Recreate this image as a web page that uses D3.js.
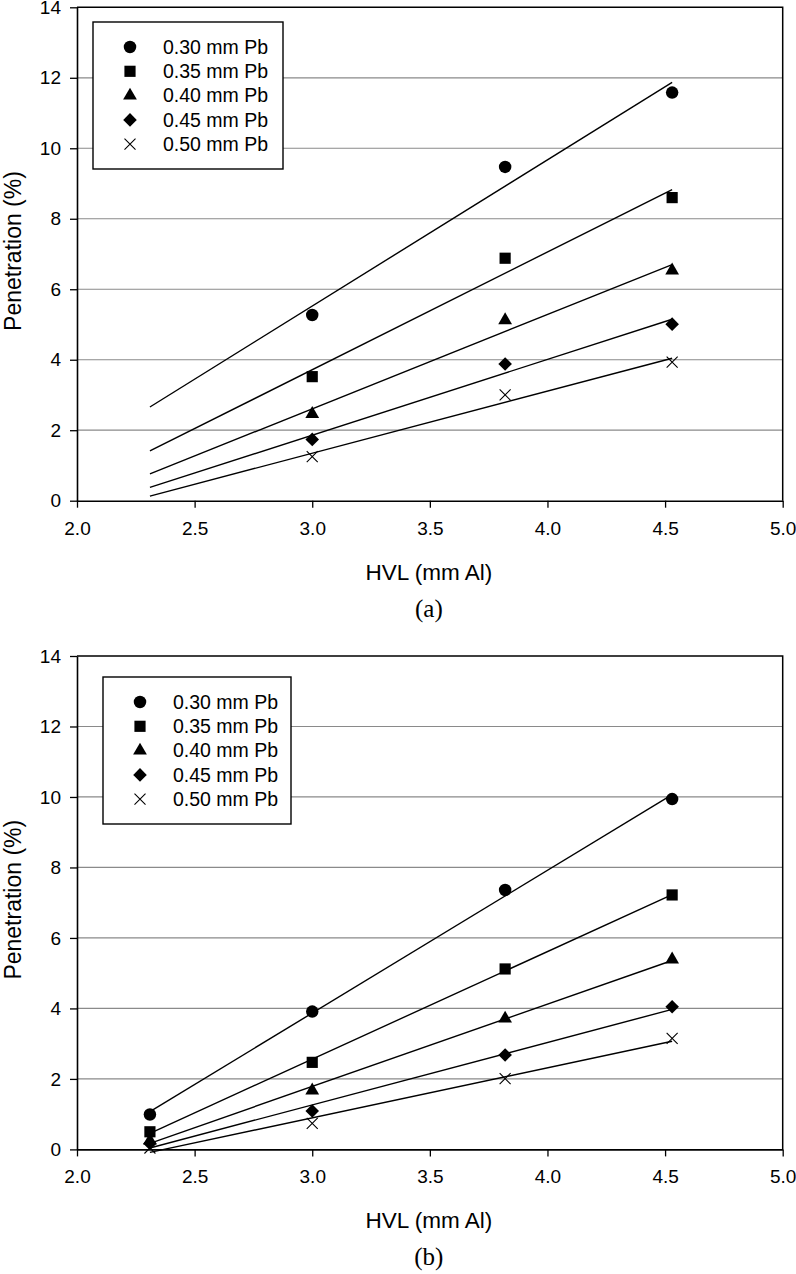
<!DOCTYPE html>
<html><head><meta charset="utf-8">
<script src="https://cdn.jsdelivr.net/npm/d3@7"></script>
<style>body{margin:0;background:#fff}svg{display:block}</style>
</head><body>
<svg id="chart" width="796" height="1274"></svg>
<script>
// ---------- data ----------
const seriesNames = ["0.30 mm Pb", "0.35 mm Pb", "0.40 mm Pb", "0.45 mm Pb", "0.50 mm Pb"];
const xTicks = [2.0, 2.5, 3.0, 3.5, 4.0, 4.5, 5.0];
const yTicks = [0, 2, 4, 6, 8, 10, 12, 14];
const fitRange = [2.31, 4.53];

// panel (a)
const hvlA = [3.0, 3.82, 4.53];
const penA_030 = [5.27, 9.47, 11.58];
const penA_035 = [3.52, 6.88, 8.60];
const penA_040 = [2.46, 5.12, 6.53];
const penA_045 = [1.74, 3.88, 5.01];
const penA_050 = [1.25, 3.00, 3.93];

// panel (b)
const hvlB = [2.31, 3.0, 3.82, 4.53];
const penB_030 = [0.99, 3.91, 7.36, 9.94];
const penB_035 = [0.50, 2.47, 5.12, 7.22];
const penB_040 = [0.25, 1.67, 3.71, 5.39];
const penB_045 = [0.17, 1.09, 2.68, 4.05];
const penB_050 = [0.04, 0.74, 2.01, 3.15];

// ---------- drawing ----------
const svg = d3.select("#chart");
const left = 77, right = 782.7, plotH = 493.4;
const x = d3.scaleLinear().domain([2, 5]).range([left, right]);
const font = "'Liberation Sans', Arial, sans-serif";

const crossType = {draw(ctx, size){ const r = Math.sqrt(size)/2; ctx.moveTo(-r,-r); ctx.lineTo(r,r); ctx.moveTo(-r,r); ctx.lineTo(r,-r); }};
const markers = [
  {type: d3.symbolCircle, size: 122, rot: 0, fill: "#000", stroke: "none"},
  {type: d3.symbolSquare, size: 125, rot: 0, fill: "#000", stroke: "none"},
  {type: d3.symbolTriangle, size: 82, rot: 0, fill: "#000", stroke: "none"},
  {type: d3.symbolSquare, size: 92, rot: 45, fill: "#000", stroke: "none"},
  {type: crossType, size: 121, rot: 0, fill: "none", stroke: "#000"}
];

function linfit(xs, ys){
  const mx = d3.mean(xs), my = d3.mean(ys);
  let sxy = 0, sxx = 0;
  xs.forEach((v,i)=>{ sxy += (v-mx)*(ys[i]-my); sxx += (v-mx)*(v-mx); });
  const b = sxy/sxx; return {b, a: my - b*mx};
}

function drawMarker(g, m, cx, cy){
  g.append("path")
    .attr("d", d3.symbol(m.type, m.size)())
    .attr("transform", `translate(${cx},${cy}) rotate(${m.rot})`)
    .attr("fill", m.fill).attr("stroke", m.stroke).attr("stroke-width", 1.1);
}

function panel(top, hvl, series, legendBox, label){
  const y = d3.scaleLinear().domain([0, 14]).range([top + plotH, top]);
  const g = svg.append("g");

  // gridlines
  g.append("g").selectAll("line").data(yTicks.slice(1, -1)).join("line")
    .attr("x1", left).attr("x2", right)
    .attr("y1", d => y(d)).attr("y2", d => y(d))
    .attr("stroke", "#8a8a8a").attr("stroke-width", 1.2);

  // frame top/right
  g.append("path")
    .attr("d", `M${left},${y(14)}H${right}V${y(0)}`)
    .attr("fill", "none").attr("stroke", "#000").attr("stroke-width", 1.5);

  // y axis
  const ya = g.append("g").attr("transform", `translate(${left},0)`)
    .call(d3.axisLeft(y).tickValues(yTicks).tickSize(7).tickSizeOuter(0).tickPadding(9).tickFormat(d3.format("d")));
  ya.select(".domain").attr("stroke", "#000").attr("stroke-width", 1.6);
  ya.selectAll(".tick line").attr("stroke", "#000").attr("stroke-width", 1.3);
  ya.selectAll("text").attr("font-family", font).attr("font-size", 19).attr("fill", "#000");

  // x axis
  const xa = g.append("g").attr("transform", `translate(0,${y(0)})`)
    .call(d3.axisBottom(x).tickValues(xTicks).tickSize(7).tickSizeOuter(0).tickPadding(13.5).tickFormat(d3.format(".1f")));
  xa.select(".domain").attr("stroke", "#000").attr("stroke-width", 1.6);
  xa.selectAll(".tick line").attr("stroke", "#000").attr("stroke-width", 1.3);
  xa.selectAll("text").attr("font-family", font).attr("font-size", 19).attr("fill", "#000");

  // fit lines
  series.forEach(s => {
    const f = linfit(hvl, s);
    g.append("line")
      .attr("x1", x(fitRange[0])).attr("y1", y(f.a + f.b*fitRange[0]))
      .attr("x2", x(fitRange[1])).attr("y2", y(f.a + f.b*fitRange[1]))
      .attr("stroke", "#000").attr("stroke-width", 1.4);
  });

  // markers
  series.forEach((s, si) => {
    s.forEach((v, i) => drawMarker(g, markers[si], x(hvl[i]), y(v)));
  });

  // legend
  const lg = g.append("g");
  lg.append("rect").attr("x", legendBox.x).attr("y", top + legendBox.dy)
    .attr("width", legendBox.w).attr("height", 147)
    .attr("fill", "#fff").attr("stroke", "#000").attr("stroke-width", 1.4);
  seriesNames.forEach((n, i) => {
    const ry = top + legendBox.dy + 25 + i*24.3;
    drawMarker(lg, markers[i], legendBox.x + 37, ry);
    lg.append("text").attr("x", legendBox.x + 70).attr("y", ry).attr("dy", "0.35em")
      .attr("font-family", font).attr("font-size", 19.5).text(n);
  });

  // axis titles
  g.append("text").attr("x", (left + right)/2 - 1).attr("y", y(0) + 79)
    .attr("text-anchor", "middle").attr("font-family", font).attr("font-size", 22.5).text("HVL (mm Al)");
  g.append("text")
    .attr("transform", `translate(21,${top + plotH/2 - 3}) rotate(-90)`)
    .attr("text-anchor", "middle").attr("font-family", font).attr("font-size", 23).text("Penetration (%)");
  g.append("text").attr("x", (left + right)/2 - 1).attr("y", y(0) + 116)
    .attr("text-anchor", "middle").attr("font-family", "'Liberation Serif', 'Times New Roman', serif")
    .attr("font-size", 25).text(label);
}

panel(7.3, hvlA, [penA_030, penA_035, penA_040, penA_045, penA_050], {x: 93, dy: 14.7, w: 190}, "(a)");
panel(656, hvlB, [penB_030, penB_035, penB_040, penB_045, penB_050], {x: 103, dy: 21, w: 188}, "(b)");
</script>
</body></html>
